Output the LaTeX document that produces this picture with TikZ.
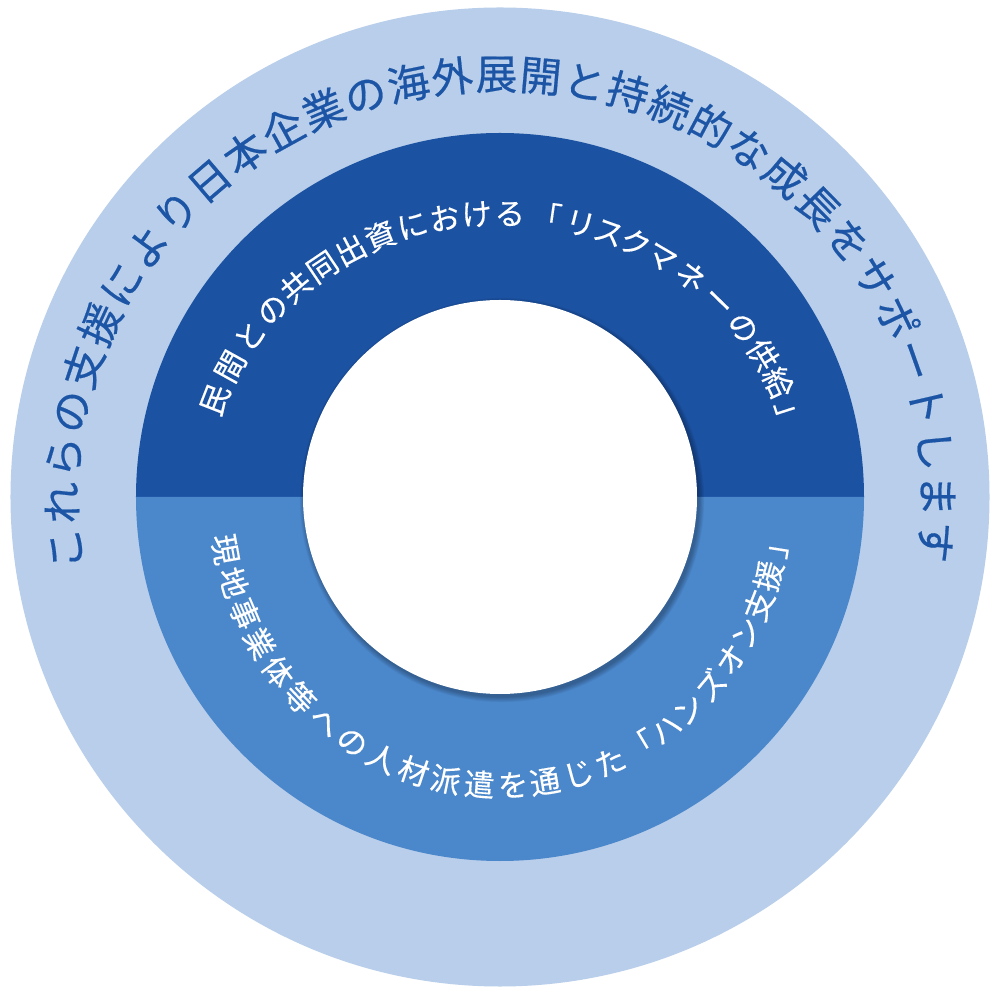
\documentclass[tikz,border=0pt]{standalone}
\usepackage{fontspec}
\setmainfont{Noto Sans CJK JP}
\newfontfamily\outerfont{Noto Sans CJK JP}[FakeBold=0.45]
\newfontfamily\innerfont{Noto Sans CJK JP}[FakeBold=0.3]
\definecolor{ringlight}{HTML}{B8CEEA}
\definecolor{ringdark}{HTML}{1C52A2}
\definecolor{ringmid}{HTML}{4B87CB}
\definecolor{outertext}{HTML}{1C55A5}
\begin{document}
\begin{tikzpicture}[x=50pt,y=50pt,
  glyph/.style={inner sep=0pt, text height=0.88em, text depth=0.12em, anchor=center},
  outerglyph/.style={glyph, text=outertext, font=\outerfont\fontsize{20.8pt}{20.8pt}\selectfont},
  innerglyph/.style={glyph, text=white, font=\innerfont\fontsize{15.2pt}{15.2pt}\selectfont}]
\fill[white] (-5,-4.97) rectangle (5,4.97);
\useasboundingbox (-5,-4.97) rectangle (5,4.97);
% rings
\fill[ringlight] (0,0) circle (4.895);
\fill[ringdark] (-3.64,0) arc (180:0:3.64) -- cycle;
\fill[ringmid] (3.64,0) arc (0:-180:3.64) -- cycle;
% soft shadow of the centre disc
\foreach \k in {1,...,7} {
  \pgfmathsetmacro{\sr}{1.965+\k*0.008}
  \fill[black, opacity=0.045] (0.02,-0.03) circle (\sr);
}
\node[circle, fill=white, minimum size=3.94*50pt, inner sep=0pt] (core) at (0,0) {};
% outer text
\foreach \ch [count=\i from 0] in {こ,れ,ら,の,支,援,に,よ,り,日,本,企,業,の,海,外,展,開,と,持,続,的,な,成,長,を,サ,ポ,ー,ト,し,ま,す} {
  \pgfmathsetmacro{\ang}{186.8-6.02*\i}
  \pgfmathsetmacro{\rad}{4.30*4.15/sqrt((4.15*cos(\ang))^2+(4.30*sin(\ang))^2)}
  \pgfmathsetmacro{\rot}{atan2(sin(\ang)*4.30*4.30, cos(\ang)*4.15*4.15)-90}
  \node[outerglyph, rotate=\rot] (o\i) at (\ang:\rad) {\ch};
}
% upper inner text
\foreach \ch/\ang [count=\i] in {民/161.2,間/154.2,と/147.3,の/140.6,共/134.2,同/127.7,出/121.2,資/114.7,に/107.9,お/101.3,け/94.7,る/88.0,「/80.6,リ/73.6,ス/67.6,ク/61.9,マ/56.0,ネ/49.0,ー/41.8,の/34.8,供/28.4,給/22.3,」/15.7} {
  \pgfmathsetmacro{\rad}{3.00*2.80/sqrt((2.80*cos(\ang))^2+(3.00*sin(\ang))^2)}
  \pgfmathsetmacro{\rot}{atan2(sin(\ang)*3.00*3.00, cos(\ang)*2.80*2.80)-90}
  \node[innerglyph, rotate=\rot] (t\i) at (\ang:\rad) {\ch};
}
% lower inner text
\foreach \ch/\ang [count=\i] in {現/190.8,地/197.8,事/204.6,業/211.3,体/218.2,等/225.1,へ/232.1,の/238.9,人/245.7,材/252.5,派/259.1,遣/265.9,を/272.6,通/279.0,じ/285.8,た/292.6,「/299.3,ハ/305.6,ン/311.6,ズ/318.2,オ/324.9,ン/331.1,支/337.3,援/343.6,」/350.5} {
  \pgfmathsetmacro{\rad}{2.83*2.92/sqrt((2.92*cos(\ang))^2+(2.83*sin(\ang))^2)}
  \pgfmathsetmacro{\rot}{atan2(sin(\ang)*2.83*2.83, cos(\ang)*2.92*2.92)+90}
  \node[innerglyph, rotate=\rot] (b\i) at (\ang:\rad) {\ch};
}
\end{tikzpicture}
\end{document}
